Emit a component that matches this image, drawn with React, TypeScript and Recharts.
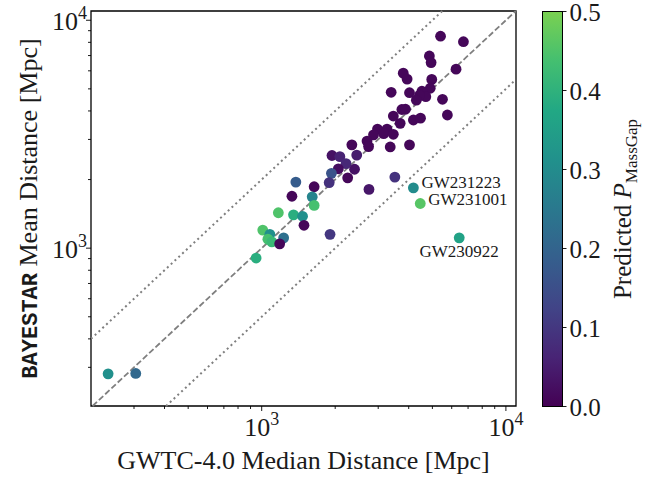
import React from 'react'
import {
  ScatterChart,
  Scatter,
  XAxis,
  YAxis,
  ReferenceLine,
  ReferenceArea,
  Label,
} from 'recharts'

// GWTC-4.0 median distance [Mpc] vs BAYESTAR mean distance [Mpc], coloured by predicted P(MassGap)
const gwtcDistance = [
  5400, 6700, 4860, 4940, 6250, 3800, 3940, 4970, 3390, 4030, 4900, 4530, 4700, 4430, 4300, 5500,
  3750, 3880, 3460, 3690, 4180, 4470, 5760, 2980, 3260, 2870, 3160, 3460, 2700, 2740, 2340, 3360,
  4030, 1940, 2090, 2450, 2215, 2060, 2400, 2250, 1930, 1890, 3510, 1380, 1640, 1330, 1610, 1640,
  2750, 1170, 1350, 1470, 1490, 1010, 1080, 1060, 1100, 1230, 1185, 1905, 949, 235, 305,
]
const bayestarDistance = [
  8510, 8050, 6970, 6520, 6100, 5860, 5520, 5500, 4830, 4810, 5030, 4880, 4620, 4690, 4460, 4500,
  4060, 4070, 3800, 3530, 3650, 3720, 3840, 3330, 3330, 3140, 3180, 3160, 2950, 2790, 2840, 2780,
  2840, 2550, 2520, 2560, 2350, 2230, 2220, 2035, 2130, 1940, 2050, 1950, 1860, 1690, 1680, 1540,
  1810, 1430, 1400, 1380, 1260, 1200, 1150, 1095, 1065, 1110, 1045, 1150, 905, 281, 282,
]
const pMassGap = [
  0.01, 0.01, 0.01, 0.01, 0.01, 0.01, 0.01, 0.01, 0.01, 0.01, 0.01, 0.01, 0.01, 0.01, 0.01, 0.01,
  0.01, 0.01, 0.01, 0.01, 0.01, 0.01, 0.01, 0.01, 0.01, 0.01, 0.01, 0.01, 0.01, 0.01, 0.01, 0.01,
  0.01, 0.03, 0.06, 0.05, 0.07, 0.02, 0.03, 0.01, 0.16, 0.09, 0.09, 0.18, 0.01, 0.01, 0.28, 0.44,
  0.04, 0.45, 0.39, 0.31, 0.01, 0.45, 0.31, 0.44, 0.42, 0.23, 0.01, 0.1, 0.39, 0.31, 0.21,
]

// annotated outliers
const namedEvents = ['GW231223', 'GW231001', 'GW230922']
const namedGwtc = [4180, 4460, 6440]
const namedBayestar = [1840, 1570, 1110]
const namedPMassGap = [0.3, 0.46, 0.36]

const X_DOMAIN = [200, 11000]
const Y_DOMAIN = [203, 10980]
const xTicks = [300, 400, 500, 600, 700, 800, 900, 1000, 2000, 3000, 4000, 5000, 6000, 7000, 8000, 9000, 10000]
const yTicks = [300, 400, 500, 600, 700, 800, 900, 1000, 2000, 3000, 4000, 5000, 6000, 7000, 8000, 9000, 10000]
const majorTicks = [1000, 10000]
const ratioLines = [1, 2, 0.5]
const colorbarTicks = [0, 0.1, 0.2, 0.3, 0.4, 0.5]
const P_MAX = 0.5

const FONT = '"Liberation Serif", "DejaVu Serif", serif'
const INK = '#1a1a1a'

const VIRIDIS = [
  '#440154', '#482475', '#414487', '#355f8d', '#2a788e', '#21918c',
  '#22a884', '#44bf70', '#7ad151', '#bddf26', '#fde725',
]

function viridis(t: number) {
  const s = Math.min(Math.max(t, 0), 1) * 10
  const i = Math.min(Math.floor(s), 9)
  const f = s - i
  const a = VIRIDIS[i]
  const b = VIRIDIS[i + 1]
  const ch = (h: string, k: number) => parseInt(h.slice(1 + 2 * k, 3 + 2 * k), 16)
  const c = [0, 1, 2].map((k) => Math.round(ch(a, k) + (ch(b, k) - ch(a, k)) * f))
  return `rgb(${c[0]},${c[1]},${c[2]})`
}

// truncated viridis: 0..P_MAX covers the lower 80% of the map
const pColor = (p: number) => viridis((p / P_MAX) * 0.8)

const events = gwtcDistance.map((x, i) => ({ x, y: bayestarDistance[i], p: pMassGap[i] }))
const labelled = namedEvents.map((name, i) => ({
  name,
  x: namedGwtc[i],
  y: namedBayestar[i],
  p: namedPMassGap[i],
}))

const labelOffset: Record<string, { dx: number; dy: number; anchor: string }> = {
  GW231223: { dx: 8, dy: 0, anchor: 'start' },
  GW231001: { dx: 8, dy: 1.5, anchor: 'start' },
  GW230922: { dx: 0, dy: 19, anchor: 'middle' },
}

const Dot = (props: any) => {
  const { cx, cy, payload } = props
  return <circle cx={cx} cy={cy} r={5.4} fill={pColor(payload.p)} />
}

const NamedDot = (props: any) => {
  const { cx, cy, payload } = props
  const o = labelOffset[payload.name]
  return (
    <g>
      <circle cx={cx} cy={cy} r={5.4} fill={pColor(payload.p)} />
      <text
        x={cx + o.dx}
        y={cy + o.dy}
        textAnchor={o.anchor as any}
        fontFamily={FONT}
        fontSize={17}
        fill={INK}
      >
        {payload.name}
      </text>
    </g>
  )
}

const XTick = ({ x, y, payload }: any) => {
  const v = payload.value
  const major = majorTicks.includes(v)
  return (
    <g>
      <line x1={x} x2={x} y1={y} y2={y + (major ? 5 : 3)} stroke="#000" strokeWidth={0.9} />
      {major && (
        <text x={x} y={y + 30} textAnchor="middle" fontFamily={FONT} fontSize={26} fill={INK}>
          10
          <tspan dy={-11} fontSize={18}>
            {Math.round(Math.log10(v))}
          </tspan>
        </text>
      )}
    </g>
  )
}

const YTick = ({ x, y, payload }: any) => {
  const v = payload.value
  const major = majorTicks.includes(v)
  return (
    <g>
      <line x1={x} x2={x - (major ? 5 : 3)} y1={y} y2={y} stroke="#000" strokeWidth={0.9} />
      {major && (
        <text x={x - 4} y={y + 10} textAnchor="end" fontFamily={FONT} fontSize={26} fill={INK}>
          10
          <tspan dy={-11} fontSize={18}>
            {Math.round(Math.log10(v))}
          </tspan>
        </text>
      )}
    </g>
  )
}

function ratioSegment(r: number) {
  const x0 = Math.max(X_DOMAIN[0], Y_DOMAIN[0] / r)
  const x1 = Math.min(X_DOMAIN[1], Y_DOMAIN[1] / r)
  return [
    { x: x0, y: x0 * r },
    { x: x1, y: x1 * r },
  ]
}

// colorbar placed right of the plot, same height as the axes box
const CB = { x: 542.5, top: 11.5, bottom: 406.5, width: 20 }

function ColorBar() {
  const toY = (v: number) => CB.bottom - (v / P_MAX) * (CB.bottom - CB.top)
  const stops = VIRIDIS.slice(0, 9)
  return (
    <svg width={662} height={481} style={{ position: 'absolute', left: 0, top: 0, pointerEvents: 'none' }}>
      <defs>
        <linearGradient id="cbar" x1="0" y1="1" x2="0" y2="0">
          {stops.map((c, i) => (
            <stop key={i} offset={`${(i / 8) * 100}%`} stopColor={c} />
          ))}
        </linearGradient>
      </defs>
      <rect x={CB.x} y={CB.top} width={CB.width} height={CB.bottom - CB.top} fill="url(#cbar)" stroke="#000" strokeWidth={1} />
      {colorbarTicks.map((t) => (
        <g key={t}>
          <line x1={CB.x + CB.width} x2={CB.x + CB.width + 4} y1={toY(t)} y2={toY(t)} stroke="#000" strokeWidth={0.9} />
          <text x={CB.x + CB.width + 7} y={toY(t) + 9} fontFamily={FONT} fontSize={25} fill={INK}>
            {t.toFixed(1)}
          </text>
        </g>
      ))}
      <text
        transform={`translate(631,${(CB.top + CB.bottom) / 2}) rotate(-90)`}
        textAnchor="middle"
        fontFamily={FONT}
        fontSize={25}
        fill={INK}
      >
        Predicted{' '}
        <tspan fontStyle="italic">P</tspan>
        <tspan dy={6} fontSize={17}>
          MassGap
        </tspan>
      </text>
    </svg>
  )
}

export default function App() {
  return (
    <div style={{ position: 'absolute', left: 0, top: 0, width: 662, height: 481, background: '#fff' }}>
      <ScatterChart width={662} height={481} margin={{ top: 11, right: 146, bottom: 0, left: 0 }}>
        <XAxis
          type="number"
          dataKey="x"
          scale="log"
          domain={X_DOMAIN}
          allowDataOverflow
          ticks={xTicks}
          interval={0}
          height={75}
          axisLine={false}
          tickLine={false}
          tickSize={0}
          tickMargin={0}
          tick={<XTick />}
        >
          <Label
            content={({ viewBox }: any) => (
              <text
                x={viewBox.x + viewBox.width / 2}
                y={viewBox.y + 63}
                textAnchor="middle"
                fontFamily={FONT}
                fontSize={26}
                fill={INK}
              >
                GWTC-4.0 Median Distance [Mpc]
              </text>
            )}
          />
        </XAxis>
        <YAxis
          type="number"
          dataKey="y"
          scale="log"
          domain={Y_DOMAIN}
          allowDataOverflow
          ticks={yTicks}
          interval={0}
          width={91}
          axisLine={false}
          tickLine={false}
          tickSize={0}
          tickMargin={0}
          tick={<YTick />}
        >
          <Label
            content={({ viewBox }: any) => (
              <text
                transform={`translate(37,${viewBox.y + viewBox.height / 2}) rotate(-90)`}
                textAnchor="middle"
                fontFamily={FONT}
                fontSize={26}
                fill={INK}
              >
                <tspan fontFamily='"Liberation Mono", monospace' fontWeight="bold" fontSize={22}>
                  BAYESTAR
                </tspan>{' '}
                Mean Distance [Mpc]
              </text>
            )}
          />
        </YAxis>
        <Scatter data={events} shape={<Dot />} isAnimationActive={false} />
        <Scatter data={labelled} shape={<NamedDot />} isAnimationActive={false} />
        {ratioLines.map((r) => (
          <ReferenceLine
            key={r}
            segment={ratioSegment(r)}
            ifOverflow="visible"
            stroke="#7f7f7f"
            strokeWidth={r === 1 ? 1.8 : 2}
            strokeDasharray={r === 1 ? '6 2.6' : '2 3.2'}
          />
        ))}
        <ReferenceArea
          x1={X_DOMAIN[0]}
          x2={X_DOMAIN[1]}
          y1={Y_DOMAIN[0]}
          y2={Y_DOMAIN[1]}
          ifOverflow="visible"
          fill="none"
          fillOpacity={0}
          stroke="#000"
          strokeOpacity={1}
          strokeWidth={1.3}
        />
      </ScatterChart>
      <ColorBar />
    </div>
  )
}
